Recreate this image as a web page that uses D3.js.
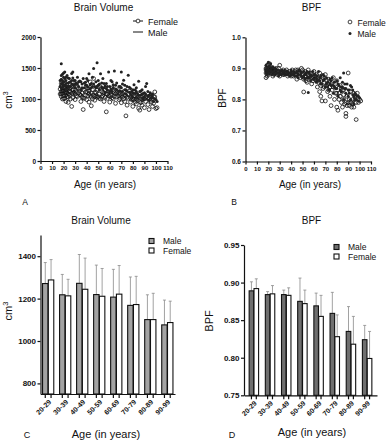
<!DOCTYPE html>
<html>
<head>
<meta charset="utf-8">
<script src="https://cdn.jsdelivr.net/npm/d3@7"></script>
<style>
  body { margin: 0; background: #fff; }
  svg { display: block; font-family: "Liberation Sans", Arial, sans-serif; }
</style>
</head>
<body>
<svg id="drawing_region"></svg>
<script>
// ---- data ----
// scatter: [age, value]
const femaleVolume = [
  [17,1080],[17,1160],[18,1040],[18,1120],[18,1200],[18,1250],[18,1080],[19,1000],[19,1090],[19,1160],
  [19,1210],[19,1130],[20,1050],[20,1240],[20,1130],[20,1180],[20,1010],[21,1010],[21,1180],[21,1100],
  [21,1260],[22,1070],[22,1150],[22,960],[22,1110],[23,1100],[23,1220],[23,1040],[23,1160],[24,1030],
  [24,945],[24,1190],[24,1080],[25,1130],[25,1060],[25,1170],[26,1180],[26,1000],[26,1110],[27,880],
  [27,1090],[27,1200],[28,1150],[28,1020],[28,1090],[29,1230],[29,1110],[30,1080],[30,990],[30,1150],
  [31,1120],[31,1050],[32,1040],[32,1190],[33,1170],[33,1100],[34,1070],[34,1130],[35,960],[35,1060],
  [36,1100],[36,1030],[37,830],[37,1020],[38,1140],[38,1010],[39,1060],[39,1110],[40,990],[40,1120],
  [41,1180],[41,1050],[42,950],[42,1090],[42,1130],[43,1275],[43,1060],[44,890],[44,1030],[44,1100],
  [45,1150],[45,1000],[46,1330],[46,1060],[47,980],[47,1100],[47,1040],[48,1110],[48,1050],[49,1030],
  [49,1140],[50,1200],[50,1040],[51,1080],[51,1010],[52,1000],[52,1195],[53,1120],[53,1030],[54,1050],
  [54,1110],[55,960],[55,1100],[56,1150],[56,1030],[57,793],[57,1080],[58,1010],[58,1080],[59,1120],
  [59,1050],[60,950],[60,1040],[61,1060],[61,1110],[62,1180],[62,1020],[63,1000],[63,1120],[64,1100],
  [64,1040],[65,930],[65,1080],[66,1040],[66,1100],[67,1150],[68,990],[68,1050],[69,1080],[69,1010],
  [70,940],[70,1060],[71,1030],[71,1090],[72,1120],[72,1000],[73,960],[73,1060],[74,728],[74,1060],
  [75,900],[75,1030],[76,1010],[76,1080],[77,1130],[78,950],[78,1020],[79,1040],[79,990],[80,880],
  [80,1010],[81,990],[81,1050],[82,1080],[82,950],[83,920],[83,1000],[84,1020],[84,980],[85,850],
  [85,1040],[86,960],[86,820],[87,1050],[87,940],[88,900],[88,990],[89,1000],[90,860],[90,1000],
  [91,960],[91,1030],[92,1040],[93,910],[93,1020],[94,830],[94,1000],[95,980],[96,1060],[96,950],
  [97,880],[97,1010],[98,930],[98,1040],[99,1114],[99,1034],[100,846],[101,860]
];
const maleVolume = [
  [17,1300],[17,1200],[18,1570],[18,1250],[18,1320],[18,1380],[18,1180],[19,1180],[19,1400],[19,1300],
  [19,1250],[20,1280],[20,1350],[20,1200],[20,1420],[21,1436],[21,1220],[21,1330],[22,1300],[22,1150],
  [22,1250],[22,1350],[23,1380],[23,1210],[24,1260],[24,1340],[24,1200],[25,1200],[25,1330],[25,1270],
  [26,1280],[26,1200],[27,1410],[27,1300],[27,1240],[28,1436],[28,1230],[28,1340],[29,1300],[29,1230],
  [30,1180],[30,1300],[30,1240],[31,1260],[32,1350],[32,1240],[33,1200],[33,1280],[34,1290],[35,1150],
  [35,1280],[36,1240],[36,1180],[37,1330],[38,1180],[38,1260],[39,1270],[39,1220],[40,1220],[40,1330],
  [41,1300],[41,1190],[42,1409],[43,1160],[43,1230],[44,1250],[44,1180],[45,1350],[45,1200],[46,1490],
  [46,1240],[47,1200],[48,1280],[48,1180],[49,1586],[49,1200],[50,1220],[50,1300],[51,1150],[51,1240],
  [52,1409],[53,1260],[53,1190],[54,1329],[54,1170],[55,1180],[55,1250],[56,1100],[56,1210],[57,1250],
  [57,1170],[58,1140],[58,1200],[59,1436],[60,1200],[60,1120],[61,1300],[61,1160],[62,1120],[62,1280],
  [63,1230],[63,1180],[64,1452],[65,1160],[65,1220],[66,1260],[66,1150],[67,1090],[68,1200],[68,1130],
  [69,1130],[69,1200],[70,1436],[70,1180],[71,1240],[71,1120],[72,1302],[73,1150],[73,1220],[74,1080],
  [74,1150],[75,1200],[75,1130],[76,1382],[77,1110],[77,1190],[78,1170],[78,1080],[79,1050],[79,1120],
  [80,1150],[80,1100],[81,1230],[82,1090],[82,1150],[83,1180],[83,1120],[84,1020],[84,1090],[85,1286],
  [85,1060],[86,1120],[87,1060],[87,1130],[88,1150],[88,1080],[89,1000],[89,1090],[90,1100],[90,1040],
  [91,1200],[91,1080],[92,1248],[93,1050],[93,1120],[94,980],[94,1060],[95,1100],[96,1020],[96,1060],
  [97,1080],[97,1020],[98,960],[99,1000],[100,990],[101,960]
];
const femaleBPF = [
  [18,0.885],[18,0.9],[18,0.87],[18,0.895],[19,0.89],[19,0.91],[19,0.875],[19,0.9],[20,0.88],[20,0.895],
  [20,0.91],[20,0.885],[21,0.915],[21,0.9],[21,0.89],[22,0.885],[22,0.905],[22,0.895],[23,0.89],[23,0.9],
  [24,0.9],[24,0.875],[24,0.89],[25,0.895],[25,0.88],[26,0.885],[26,0.895],[27,0.9],[27,0.885],[28,0.88],
  [28,0.89],[29,0.89],[29,0.9],[30,0.91],[30,0.875],[31,0.89],[31,0.885],[32,0.885],[33,0.895],[33,0.88],
  [34,0.88],[34,0.89],[35,0.89],[36,0.885],[36,0.895],[37,0.875],[38,0.89],[38,0.88],[39,0.88],[40,0.885],
  [40,0.875],[41,0.895],[42,0.875],[42,0.885],[43,0.89],[44,0.88],[44,0.895],[45,0.865],[45,0.88],[46,0.895],
  [47,0.885],[47,0.875],[48,0.87],[48,0.885],[49,0.9],[50,0.88],[50,0.895],[51,0.824],[51,0.865],[52,0.89],
  [52,0.875],[53,0.875],[53,0.86],[54,0.855],[55,0.895],[55,0.88],[56,0.87],[56,0.885],[57,0.885],[58,0.85],
  [58,0.87],[59,0.875],[59,0.86],[60,0.89],[61,0.865],[61,0.875],[62,0.88],[62,0.87],[63,0.84],[63,0.86],
  [64,0.87],[64,0.855],[65,0.825],[65,0.885],[66,0.81],[66,0.86],[66,0.845],[67,0.795],[67,0.875],[68,0.835],
  [68,0.87],[69,0.855],[69,0.84],[70,0.795],[70,0.88],[71,0.845],[71,0.86],[72,0.825],[72,0.85],[73,0.865],
  [73,0.83],[74,0.81],[74,0.84],[75,0.78],[75,0.85],[76,0.83],[76,0.855],[77,0.87],[77,0.84],[78,0.8],
  [79,0.84],[79,0.82],[80,0.775],[80,0.86],[80,0.82],[81,0.765],[82,0.82],[82,0.8],[83,0.845],[83,0.81],
  [84,0.79],[84,0.835],[85,0.775],[85,0.83],[86,0.8],[86,0.815],[86,0.83],[87,0.785],[88,0.755],[88,0.745],
  [88,0.79],[89,0.81],[89,0.78],[90,0.885],[90,0.79],[91,0.78],[91,0.8],[92,0.825],[92,0.79],[93,0.79],
  [93,0.775],[94,0.8],[94,0.785],[95,0.775],[95,0.82],[96,0.81],[96,0.8],[97,0.735],[97,0.79],[98,0.82],
  [99,0.79],[100,0.8],[101,0.795]
];
const maleBPF = [
  [18,0.895],[18,0.91],[18,0.885],[19,0.88],[19,0.9],[19,0.895],[20,0.92],[20,0.89],[20,0.905],[21,0.885],
  [21,0.895],[21,0.905],[22,0.895],[22,0.915],[23,0.88],[23,0.9],[23,0.89],[24,0.905],[25,0.89],[25,0.88],
  [25,0.9],[26,0.9],[27,0.885],[27,0.895],[28,0.895],[28,0.885],[29,0.875],[29,0.885],[30,0.89],[30,0.88],
  [31,0.88],[31,0.89],[32,0.895],[33,0.885],[33,0.89],[34,0.89],[34,0.88],[35,0.88],[36,0.89],[36,0.88],
  [37,0.88],[37,0.89],[38,0.885],[39,0.875],[39,0.885],[40,0.885],[40,0.895],[41,0.88],[42,0.89],[42,0.88],
  [43,0.875],[43,0.885],[44,0.885],[45,0.89],[45,0.875],[46,0.87],[46,0.88],[47,0.895],[48,0.88],[48,0.89],
  [49,0.885],[49,0.875],[50,0.87],[51,0.89],[51,0.875],[52,0.865],[52,0.88],[53,0.88],[53,0.885],[54,0.89],
  [54,0.87],[55,0.822],[55,0.87],[56,0.885],[56,0.87],[57,0.86],[57,0.875],[58,0.875],[59,0.89],[59,0.865],
  [60,0.865],[60,0.88],[61,0.88],[62,0.855],[62,0.87],[63,0.875],[63,0.86],[64,0.89],[65,0.86],[65,0.87],
  [66,0.875],[66,0.85],[67,0.85],[68,0.88],[68,0.86],[69,0.865],[69,0.875],[70,0.84],[71,0.87],[71,0.85],
  [72,0.855],[72,0.84],[73,0.83],[74,0.865],[74,0.85],[75,0.845],[75,0.86],[76,0.87],[77,0.82],[77,0.845],
  [78,0.855],[78,0.84],[79,0.835],[80,0.86],[80,0.835],[81,0.81],[81,0.85],[82,0.845],[83,0.87],[83,0.83],
  [84,0.825],[84,0.84],[85,0.84],[85,0.855],[86,0.885],[86,0.8],[87,0.835],[87,0.85],[88,0.82],[88,0.835],
  [89,0.85],[90,0.81],[90,0.83],[91,0.83],[91,0.82],[92,0.8],[92,0.845],[93,0.84],[94,0.815],[94,0.83],
  [95,0.785],[95,0.81],[96,0.82],[96,0.8],[97,0.8],[97,0.815],[98,0.81],[99,0.795],[99,0.81],[100,0.805]
];

// bars: group means and SD (upper error only)
const ageGroups = ['20-29','30-39','40-49','50-59','60-69','70-79','80-89','90-99'];
const sexes = ['Male','Female'];
const maleVolMean   = [1271,1218,1272,1219,1207,1168,1101,1076];
const maleVolSD     = [99,96,136,139,131,134,117,117];
const femaleVolMean = [1288,1213,1244,1211,1221,1172,1101,1087];
const femaleVolSD   = [96,78,147,131,135,133,124,101];
const maleBpfMean   = [0.889,0.884,0.884,0.875,0.869,0.859,0.835,0.824];
const maleBpfSD     = [0.012,0.004,0.006,0.031,0.017,0.028,0.033,0.019];
const femaleBpfMean = [0.892,0.885,0.883,0.872,0.855,0.828,0.818,0.799];
const femaleBpfSD   = [0.013,0.011,0.010,0.018,0.028,0.029,0.037,0.036];

const ageTicks = d3.range(0, 111, 10);
const volTicks = [0, 500, 1000, 1500, 2000];
const bpfTicks = [0.6, 0.7, 0.8, 0.9, 1.0];
const volBarTicks = [800, 1000, 1200, 1400];
const bpfBarTicks = [0.75, 0.80, 0.85, 0.90, 0.95];

const svg = d3.select('#drawing_region')
    .attr('width', 387)
    .attr('height', 440);

function styleAxis(g, size) {
    g.selectAll('path, line').attr('stroke', '#111').attr('stroke-width', 1.2);
    g.selectAll('text')
        .attr('font-size', size)
        .attr('font-weight', 'bold')
        .attr('font-family', '"Liberation Sans", Arial, sans-serif')
        .attr('fill', '#111');
}

function text(x, y, str, size, anchor) {
    return svg.append('text')
        .attr('x', x).attr('y', y)
        .attr('font-size', size)
        .attr('text-anchor', anchor || 'middle')
        .attr('fill', '#111')
        .text(str);
}

// ---------- scatter panels ----------
function scatter(cfg) {
    const xscale = d3.scaleLinear().domain([0, 110]).range([cfg.left, cfg.right]);
    const yscale = d3.scaleLinear().domain(cfg.ydomain).range([cfg.bottom, cfg.top]);

    const g = svg.append('g');

    g.selectAll('circle.f')
        .data(cfg.female)
        .enter().append('circle')
        .attr('cx', d => xscale(d[0]))
        .attr('cy', d => yscale(d[1]))
        .attr('r', 1.9)
        .attr('fill', 'none')
        .attr('stroke', '#111')
        .attr('stroke-width', 0.8);

    g.selectAll('circle.m')
        .data(cfg.male)
        .enter().append('circle')
        .attr('cx', d => xscale(d[0]))
        .attr('cy', d => yscale(d[1]))
        .attr('r', 1.5)
        .attr('fill', '#222');

    const xaxis = svg.append('g')
        .attr('transform', `translate(0, ${cfg.bottom})`)
        .call(d3.axisBottom(xscale).tickValues(ageTicks).tickSize(3).tickSizeOuter(0).tickPadding(2));
    styleAxis(xaxis, 6);

    const yaxis = svg.append('g')
        .attr('transform', `translate(${cfg.left}, 0)`)
        .call(d3.axisLeft(yscale).tickValues(cfg.yticks).tickSize(3).tickSizeOuter(0).tickPadding(1.5)
            .tickFormat(cfg.yformat));
    styleAxis(yaxis, 6.5);
}

scatter({
    left: 40.5, right: 167.5, top: 37, bottom: 161,
    ydomain: [0, 2000], yticks: volTicks, yformat: d3.format('d'),
    female: femaleVolume, male: maleVolume
});
scatter({
    left: 245.5, right: 371, top: 37.3, bottom: 161.5,
    ydomain: [0.6, 1.0], yticks: bpfTicks, yformat: d3.format('.1f'),
    female: femaleBPF, male: maleBPF
});

// titles and labels, top row
text(103.5, 11, 'Brain Volume', 10);
text(311.5, 11, 'BPF', 10);
text(105, 187.5, 'Age (in years)', 10);
text(310, 187.5, 'Age (in years)', 10);
text(25, 205, 'A', 8.5);
text(234, 205, 'B', 8.5);

const cmA = svg.append('text')
    .attr('transform', 'translate(12, 100) rotate(-90)')
    .attr('text-anchor', 'middle').attr('font-size', 10).attr('fill', '#111');
cmA.append('tspan').text('cm');
cmA.append('tspan').attr('dy', -4).attr('font-size', 7).text('3');
svg.append('text')
    .attr('transform', 'translate(226, 98) rotate(-90)')
    .attr('text-anchor', 'middle').attr('font-size', 10).attr('fill', '#111')
    .text('BPF');

// legends, top row
svg.append('line').attr('x1', 133).attr('x2', 143).attr('y1', 21).attr('y2', 21)
    .attr('stroke', '#111').attr('stroke-width', 1);
svg.append('circle').attr('cx', 138).attr('cy', 21).attr('r', 1.9)
    .attr('fill', '#fff').attr('stroke', '#111').attr('stroke-width', 0.8);
text(148, 24.5, 'Female', 9, 'start');
svg.append('line').attr('x1', 133).attr('x2', 143).attr('y1', 32).attr('y2', 32)
    .attr('stroke', '#111').attr('stroke-width', 1);
text(148, 35.5, 'Male', 9, 'start');

svg.append('circle').attr('cx', 350).attr('cy', 22).attr('r', 1.9)
    .attr('fill', 'none').attr('stroke', '#111').attr('stroke-width', 0.8);
text(357.5, 25.5, 'Female', 8.5, 'start');
svg.append('circle').attr('cx', 350).attr('cy', 33.5).attr('r', 1.5).attr('fill', '#222');
text(357.5, 37, 'Male', 8.5, 'start');

// ---------- bar panels ----------
function bars(cfg) {
    const data = ageGroups.map((a, i) => ({
        group: a,
        values: [
            { sex: 'Male', mean: cfg.maleMean[i], sd: cfg.maleSD[i] },
            { sex: 'Female', mean: cfg.femaleMean[i], sd: cfg.femaleSD[i] }
        ]
    }));

    const x0 = d3.scaleBand().domain(ageGroups).range([cfg.left, cfg.right])
        .paddingInner(cfg.padInner).paddingOuter(cfg.padOuter);
    const x1 = d3.scaleBand().domain(sexes).range([0, x0.bandwidth()]).padding(0.06);
    const yscale = d3.scaleLinear().domain(cfg.ydomain).range([cfg.bottom, cfg.top]);

    const groups = svg.append('g').selectAll('g')
        .data(data)
        .enter().append('g')
        .attr('transform', d => `translate(${x0(d.group)}, 0)`);

    const cells = groups.selectAll('g')
        .data(d => d.values)
        .enter().append('g');

    // error bars (up only)
    cells.append('line')
        .attr('x1', d => x1(d.sex) + x1.bandwidth() / 2)
        .attr('x2', d => x1(d.sex) + x1.bandwidth() / 2)
        .attr('y1', d => yscale(d.mean))
        .attr('y2', d => yscale(d.mean + d.sd))
        .attr('stroke', '#8a8a8a').attr('stroke-width', 0.8);
    cells.append('line')
        .attr('x1', d => x1(d.sex) + x1.bandwidth() / 2 - 1.5)
        .attr('x2', d => x1(d.sex) + x1.bandwidth() / 2 + 1.5)
        .attr('y1', d => yscale(d.mean + d.sd))
        .attr('y2', d => yscale(d.mean + d.sd))
        .attr('stroke', '#8a8a8a').attr('stroke-width', 0.8);

    cells.append('rect')
        .attr('x', d => x1(d.sex))
        .attr('y', d => yscale(d.mean))
        .attr('width', x1.bandwidth())
        .attr('height', d => cfg.bottom - yscale(d.mean))
        .attr('fill', d => d.sex === 'Male' ? cfg.maleFill : '#fff')
        .attr('stroke', '#111').attr('stroke-width', 1.1);

    // tick under each bar
    cells.append('line')
        .attr('x1', d => x1(d.sex) + x1.bandwidth() / 2)
        .attr('x2', d => x1(d.sex) + x1.bandwidth() / 2)
        .attr('y1', cfg.bottom)
        .attr('y2', cfg.bottom + 4)
        .attr('stroke', '#111').attr('stroke-width', 1.2);

    const xaxis = svg.append('g')
        .attr('transform', `translate(0, ${cfg.bottom})`)
        .call(d3.axisBottom(x0).tickSize(0).tickSizeOuter(0).tickFormat(''));
    styleAxis(xaxis, 7);

    svg.append('g').selectAll('text')
        .data(ageGroups)
        .enter().append('text')
        .attr('transform', d => `translate(${x0(d) + x0.bandwidth() / 2 + 1}, ${cfg.bottom + 6}) rotate(-45)`)
        .attr('text-anchor', 'end')
        .attr('dy', '0.5em')
        .attr('font-size', 7)
        .attr('font-weight', 'bold')
        .attr('fill', '#111')
        .text(d => d);

    const yaxis = svg.append('g')
        .attr('transform', `translate(${cfg.left}, 0)`)
        .call(d3.axisLeft(yscale).tickValues(cfg.yticks).tickSize(3).tickSizeOuter(0).tickPadding(1.5)
            .tickFormat(cfg.yformat));
    styleAxis(yaxis, 8);

    // legend
    sexes.forEach((s, i) => {
        svg.append('rect')
            .attr('x', cfg.legendX).attr('y', cfg.legendY + i * cfg.legendStep)
            .attr('width', 5).attr('height', 5)
            .attr('fill', s === 'Male' ? cfg.maleFill : '#fff')
            .attr('stroke', '#111').attr('stroke-width', 1.1);
        text(cfg.legendX + 14, cfg.legendY + i * cfg.legendStep + 5.5, s, 8.5, 'start');
    });
}

bars({
    left: 40.5, right: 175, top: 235, bottom: 394,
    padInner: 0.3, padOuter: 0.1,
    ydomain: [750, 1500], yticks: volBarTicks, yformat: d3.format('d'),
    maleMean: maleVolMean, maleSD: maleVolSD, femaleMean: femaleVolMean, femaleSD: femaleVolSD,
    maleFill: '#a3a3a3', legendX: 149, legendY: 238.5, legendStep: 9.5
});
bars({
    left: 244, right: 377, top: 245, bottom: 395.3,
    padInner: 0.38, padOuter: 0.3,
    ydomain: [0.75, 0.95], yticks: bpfBarTicks, yformat: d3.format('.2f'),
    maleMean: maleBpfMean, maleSD: maleBpfSD, femaleMean: femaleBpfMean, femaleSD: femaleBpfSD,
    maleFill: '#6f6f6f', legendX: 334, legendY: 244.5, legendStep: 9.5
});

// titles and labels, bottom row
text(101, 223.5, 'Brain Volume', 10);
text(311.5, 223.5, 'BPF', 10);
text(106, 438, 'Age (in years)', 11);
text(312, 436, 'Age (in years)', 11);
text(27, 438, 'C', 9);
text(232, 438, 'D', 9);

const cmC = svg.append('text')
    .attr('transform', 'translate(12, 311) rotate(-90)')
    .attr('text-anchor', 'middle').attr('font-size', 11).attr('fill', '#111');
cmC.append('tspan').text('cm');
cmC.append('tspan').attr('dy', -4.5).attr('font-size', 7.5).text('3');
svg.append('text')
    .attr('transform', 'translate(213, 321) rotate(-90)')
    .attr('text-anchor', 'middle').attr('font-size', 11).attr('fill', '#111')
    .text('BPF');
</script>
</body>
</html>
